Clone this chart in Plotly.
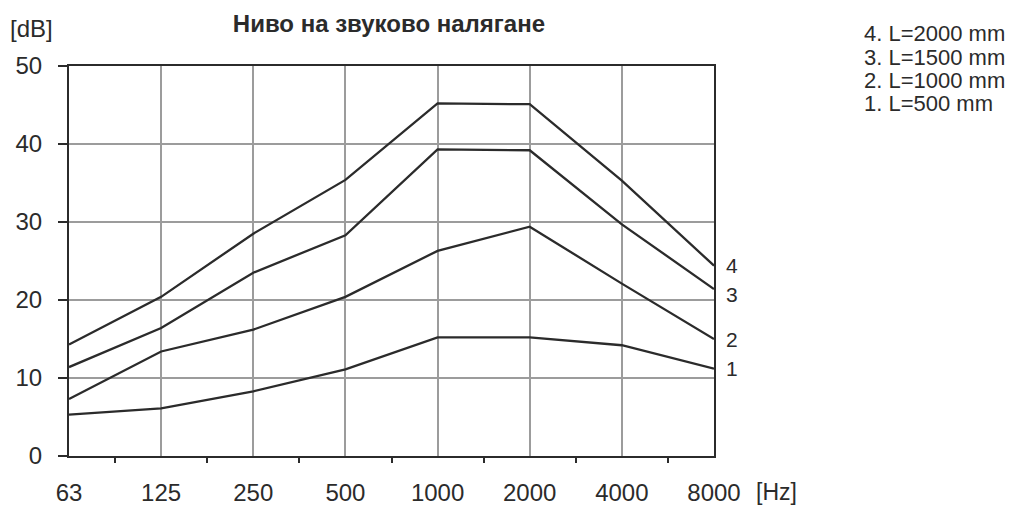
import plotly.graph_objects as go

# ---- data ----
freq_labels = ["63", "125", "250", "500", "1000", "2000", "4000", "8000"]
series_names = ["1. L=500 mm", "2. L=1000 mm", "3. L=1500 mm", "4. L=2000 mm"]
series_tags = ["1", "2", "3", "4"]
s1 = [5.3, 6.1, 8.3, 11.1, 15.2, 15.2, 14.2, 11.2]
s2 = [7.3, 13.4, 16.2, 20.4, 26.3, 29.4, 22.1, 15.0]
s3 = [11.4, 16.4, 23.5, 28.3, 39.3, 39.2, 29.7, 21.4]
s4 = [14.3, 20.4, 28.5, 35.4, 45.2, 45.1, 35.3, 24.4]
series_values = [s1, s2, s3, s4]
y_ticks = [0, 10, 20, 30, 40, 50]
title_text = "Ниво на звуково налягане"
y_unit = "[dB]"
x_unit = "[Hz]"

FONT = "Liberation Sans, Arial, sans-serif"
INK = "#2b2b2b"
GRID = "#9c9c9c"

# the page body has an 8px margin, so the figure is drawn 8px smaller
W, H = 1012, 498

x_idx = list(range(len(freq_labels)))

fig = go.Figure()
for vals in series_values:
    fig.add_trace(go.Scatter(x=x_idx, y=vals, mode="lines",
                             line=dict(color=INK, width=2.3),
                             showlegend=False, hoverinfo="skip"))

# end labels at right side of each line
tag_yshift = [0, 0, -5, 0]
for tag, vals, ys in zip(series_tags, series_values, tag_yshift):
    fig.add_annotation(x=x_idx[-1], y=vals[-1], xref="x", yref="y",
                       text=tag, showarrow=False, xanchor="left",
                       xshift=10, yshift=ys,
                       font=dict(family=FONT, size=21, color=INK))

# legend text (top right), listed 4..1 from top
legend_y = [1.0846, 1.023, 0.964, 0.905]
for name, yy in zip(reversed(series_names), legend_y):
    fig.add_annotation(x=1.23, y=yy, xref="paper", yref="paper",
                       text=name, showarrow=False, xanchor="left",
                       yanchor="middle",
                       font=dict(family=FONT, size=22, color=INK))

fig.add_annotation(x=-0.0946, y=1.095, xref="paper", yref="paper",
                   text=y_unit, showarrow=False, xanchor="left",
                   yanchor="middle",
                   font=dict(family=FONT, size=24, color=INK))
fig.add_annotation(x=1.062, y=-0.093, xref="paper", yref="paper",
                   text=x_unit, showarrow=False, xanchor="left",
                   yanchor="middle",
                   font=dict(family=FONT, size=23, color=INK))

fig.update_layout(
    width=W, height=H,
    margin=dict(l=61, r=306, t=58, b=50),
    paper_bgcolor="white", plot_bgcolor="white",
    title=dict(text="<b>" + title_text + "</b>", x=0.496, xref="paper",
               xanchor="center", y=1 - 16 / H, yanchor="middle",
               font=dict(family=FONT, size=24, color=INK)),
    xaxis=dict(range=[0, len(freq_labels) - 1], tickmode="array",
               tickvals=x_idx, ticktext=freq_labels, ticks="",
               showgrid=True, gridcolor=GRID, gridwidth=1.6,
               showline=True, linecolor=INK, linewidth=2, mirror=True,
               zeroline=False, ticklabelstandoff=14, automargin=False,
               tickfont=dict(family=FONT, size=24, color=INK),
               minor=dict(tickvals=[i + 0.5 for i in x_idx[:-1]],
                          ticks="outside", ticklen=5, tickwidth=2,
                          tickcolor=INK, showgrid=False)),
    yaxis=dict(range=[0, 50], tickmode="array", tickvals=y_ticks,
               ticks="outside", ticklen=9, tickwidth=2, tickcolor=INK,
               showgrid=True, gridcolor=GRID, gridwidth=1.6,
               showline=True, linecolor=INK, linewidth=2, mirror=True,
               zeroline=False, ticklabelstandoff=11, automargin=False,
               tickfont=dict(family=FONT, size=24, color=INK)),
)

fig.write_html("out.html")
